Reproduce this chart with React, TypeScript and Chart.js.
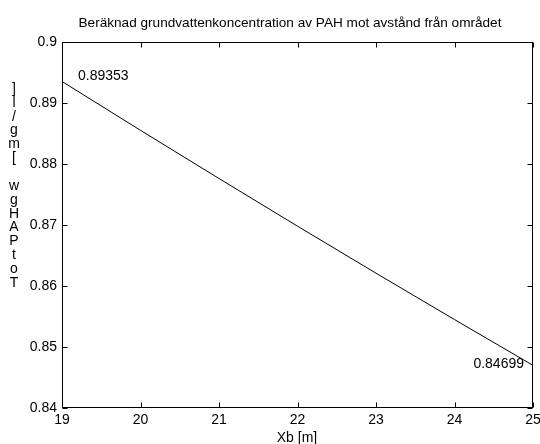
import React, { useEffect, useRef } from "react";
import { Chart, registerables } from "chart.js";

Chart.register(...registerables);

const titleText = "Beräknad grundvattenkoncentration av PAH mot avstånd från området";
const xAxisTitle = "Xb [m]";
const yAxisTitle = "TotPAHgw [mg/l]";
const distanceXb = [19, 20, 21, 22, 23, 24, 25];
const concentration = [0.89353, 0.88552, 0.87762, 0.86981, 0.8621, 0.8545, 0.84699];
const xTicks = [19, 20, 21, 22, 23, 24, 25];
const yTicks = [0.84, 0.85, 0.86, 0.87, 0.88, 0.89, 0.9];

const FONT = "'Liberation Sans', Arial, Helvetica, sans-serif";

const framePlugin = {
  id: "matlabFrame",
  afterDraw(chart: any) {
    const ctx = chart.ctx;
    const a = chart.chartArea;
    const xs = chart.scales.x;
    const ys = chart.scales.y;
    ctx.save();
    ctx.strokeStyle = "#000";
    ctx.lineWidth = 1;
    const L = Math.round(a.left) + 0.5;
    const R = Math.round(a.right) - 0.5;
    const T = Math.round(a.top) + 0.5;
    const B = Math.round(a.bottom) - 0.5;
    ctx.strokeRect(L, T, R - L, B - T);
    const tl = 5;
    ctx.beginPath();
    xTicks.forEach((v) => {
      const px = Math.round(xs.getPixelForValue(v)) + 0.5;
      ctx.moveTo(px, B);
      ctx.lineTo(px, B - tl);
      ctx.moveTo(px, T);
      ctx.lineTo(px, T + tl);
    });
    yTicks.forEach((v) => {
      const py = Math.round(ys.getPixelForValue(v)) + 0.5;
      ctx.moveTo(L, py);
      ctx.lineTo(L + tl, py);
      ctx.moveTo(R, py);
      ctx.lineTo(R - tl, py);
    });
    ctx.stroke();

    ctx.fillStyle = "#000";
    ctx.font = `14px ${FONT}`;
    const n = distanceXb.length;
    const p0x = xs.getPixelForValue(distanceXb[0]);
    const p0y = ys.getPixelForValue(concentration[0]);
    ctx.textAlign = "left";
    ctx.textBaseline = "middle";
    ctx.fillText(concentration[0].toFixed(5), p0x + 16, p0y - 5);
    const p1x = xs.getPixelForValue(distanceXb[n - 1]);
    const p1y = ys.getPixelForValue(concentration[n - 1]);
    ctx.textAlign = "right";
    ctx.fillText(concentration[n - 1].toFixed(5), p1x - 9, p1y - 1);

    ctx.textAlign = "center";
    ctx.font = `13.6px ${FONT}`;
    ctx.fillText(titleText, 290, 23);
    ctx.font = `14px ${FONT}`;
    ctx.fillText(xAxisTitle, 297, 438);
    const chars = yAxisTitle.split("").reverse();
    chars.forEach((c, i) => {
      ctx.fillText(c, 14, 89 + i * 13.86);
    });
    ctx.restore();
  },
};

export default function App() {
  const ref = useRef<HTMLCanvasElement | null>(null);
  useEffect(() => {
    document.body.style.margin = "0";
    const canvas = ref.current!;
    const chart = new Chart(canvas, {
      type: "line",
      data: {
        datasets: [
          {
            data: distanceXb.map((x, i) => ({ x, y: concentration[i] })),
            borderColor: "#000",
            borderWidth: 1,
            pointRadius: 0,
            fill: false,
            tension: 0,
          },
        ],
      },
      options: {
        responsive: false,
        animation: false,
        events: [],
        layout: { padding: { top: 42, right: 7, left: 0, bottom: 0 } },
        plugins: { legend: { display: false }, tooltip: { enabled: false }, title: { display: false } },
        scales: {
          x: {
            type: "linear",
            min: 19,
            max: 25,
            afterBuildTicks: (s: any) => {
              s.ticks = xTicks.map((v) => ({ value: v }));
            },
            ticks: {
              color: "#000",
              font: { family: FONT, size: 14 },
              padding: 4,
              maxRotation: 0,
              callback: (v: any) => String(v),
            },
            grid: { display: false, drawTicks: false },
            border: { display: false },
            afterFit: (s: any) => {
              s.height = 36;
              s.paddingLeft = 0;
              s.paddingRight = 0;
            },
          },
          y: {
            type: "linear",
            min: 0.84,
            max: 0.9,
            afterBuildTicks: (s: any) => {
              s.ticks = yTicks.map((v) => ({ value: v }));
            },
            ticks: {
              color: "#000",
              font: { family: FONT, size: 14 },
              padding: 5,
              callback: (v: any) => String(+Number(v).toFixed(2)),
            },
            grid: { display: false, drawTicks: false },
            border: { display: false },
            afterFit: (s: any) => {
              s.width = 62;
              s.paddingTop = 0;
              s.paddingBottom = 0;
            },
          },
        },
      },
      plugins: [framePlugin],
    } as any);
    return () => chart.destroy();
  }, []);
  return (
    <div style={{ position: "absolute", left: 0, top: 0, width: 540, height: 444, background: "#fff" }}>
      <canvas ref={ref} width={540} height={444} />
    </div>
  );
}
